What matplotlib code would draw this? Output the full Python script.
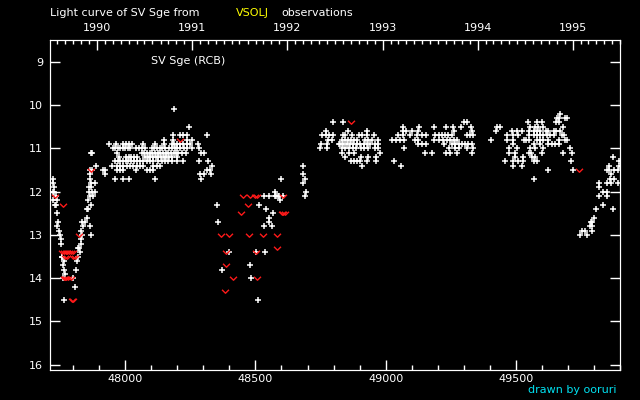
import datetime as dt
import matplotlib.pyplot as plt
from matplotlib.path import Path
from matplotlib.ticker import MultipleLocator, FixedLocator

# visual estimates, rows of (magnitude, [JD - 2400000, ...])
obs_1989 = [
    (11.1, [47869, 47873]), (11.4, [47888]), (11.5, [47864, 47872]),
    (11.6, [47864]), (11.7, [47721, 47864]), (11.8, [47724, 47868, 47885]),
    (11.9, [47726, 47862, 47868]), (12.0, [47721, 47726, 47859, 47871, 47884]),
    (12.1, [47734, 47864, 47875]), (12.2, [47721, 47737, 47858]),
    (12.3, [47730, 47733, 47869]), (12.4, [47852, 47856]), (12.5, [47739]),
    (12.6, [47852]), (12.7, [47743, 47835, 47845]), (12.8, [47739, 47839, 47866]),
    (12.9, [47747, 47830]), (13.0, [47749, 47835, 47869]), (13.1, [47752, 47830]),
    (13.2, [47753, 47830]), (13.3, [47818, 47821]), (13.4, [47826]),
    (13.5, [47756, 47759, 47817]), (13.6, [47765, 47815]), (13.7, [47762]),
    (13.8, [47765, 47811]), (13.9, [47767]), (14.0, [47762, 47798]),
    (14.2, [47808]), (14.5, [47765]),
]
obs_1990 = [
    (10.1, [48188]), (10.5, [48246]),
    (10.7, [48182, 48211, 48221, 48239, 48315]),
    (10.8, [48150, 48185, 48236, 48255]),
    (10.9, [47939, 47964, 47992, 48003, 48013, 48025, 48067, 48113, 48149, 48178,
            48188, 48199, 48210, 48223, 48237, 48249, 48281]),
    (11.0, [47952, 47962, 47973, 47980, 47990, 48000, 48010, 48018, 48041, 48051,
            48063, 48076, 48101, 48112, 48122, 48132, 48142, 48153, 48169, 48179,
            48190, 48200, 48210, 48226, 48238, 48255, 48284]),
    (11.1, [47967, 48063, 48073, 48083, 48094, 48104, 48114, 48124, 48135, 48145,
            48155, 48165, 48176, 48186, 48196, 48204, 48217, 48233, 48290, 48302]),
    (11.2, [47977, 48003, 48013, 48023, 48034, 48044, 48076, 48086, 48096, 48106,
            48117, 48127, 48137, 48147, 48158, 48168, 48178, 48197]),
    (11.3, [47960, 47971, 47981, 47991, 48001, 48012, 48022, 48032, 48044, 48057,
            48069, 48082, 48095, 48108, 48127, 48140, 48153, 48165, 48178, 48200,
            48223, 48283, 48317]),
    (11.4, [47948, 47967, 47980, 47992, 48005, 48018, 48031, 48044, 48057, 48069,
            48108, 48121, 48133, 48334]),
    (11.5, [47913, 47923, 47969, 47981, 47992, 48041, 48082, 48095, 48108, 48313,
            48326]),
    (11.6, [47922, 48287, 48304, 48329]),
    (11.7, [47960, 47992, 48016, 48114, 48291]),
]
obs_1991 = [
    (11.7, [48599]), (12.0, [48575]),
    (12.1, [48534, 48552, 48575, 48580, 48586, 48590, 48606]),
    (12.2, [48594]), (12.3, [48354, 48515]), (12.4, [48541]), (12.5, [48569]),
    (12.6, [48551]), (12.7, [48357, 48552]), (12.8, [48534, 48562]),
    (13.4, [48400, 48503, 48538]), (13.7, [48480]), (13.8, [48373]),
    (14.0, [48484]), (14.5, [48511]),
]
obs_1992 = [
    (10.4, [48799, 48838]), (10.6, [48771, 48857, 48930]),
    (10.7, [48757, 48771, 48784, 48799, 48836, 48845, 48870, 48896, 48908, 48928,
            48957]),
    (10.8, [48780, 48793, 48831, 48845, 48857, 48866, 48879, 48889, 48921, 48934,
            48947, 48972]),
    (10.9, [48751, 48776, 48819, 48825, 48835, 48851, 48863, 48876, 48889, 48902,
            48915, 48927, 48940, 48960, 48972]),
    (11.0, [48748, 48776, 48831, 48844, 48861, 48876, 48885, 48904, 48918, 48934,
            48960, 48969]),
    (11.1, [48834, 48861, 48877, 48979]), (11.2, [48844, 48904, 48931, 48963]),
    (11.3, [48867, 48877, 48890, 48902, 48927, 48963]), (11.4, [48684, 48911]),
    (11.6, [48684]), (11.7, [48692]), (11.8, [48681]), (12.0, [48696]),
    (12.1, [48692]),
]
obs_1993 = [
    (10.4, [49299, 49312]),
    (10.5, [49068, 49130, 49187, 49231, 49260, 49289, 49328]),
    (10.6, [49068, 49078, 49100, 49126, 49264, 49331]),
    (10.7, [49049, 49066, 49094, 49120, 49139, 49155, 49190, 49203, 49216, 49228,
            49241, 49254, 49312, 49325, 49337]),
    (10.8, [49024, 49039, 49056, 49072, 49113, 49126, 49187, 49205, 49222, 49235,
            49248, 49261, 49273]),
    (10.9, [49126, 49139, 49155, 49225, 49254, 49267, 49280, 49293, 49305, 49318,
            49331]),
    (11.0, [49072, 49245, 49267, 49280, 49314, 49335]),
    (11.1, [49152, 49177, 49232, 49248, 49273, 49332]),
    (11.3, [49034]), (11.4, [49058]),
]
obs_1994 = [
    (10.2, [49671]), (10.3, [49658, 49664, 49690, 49697]),
    (10.4, [49546, 49581, 49600, 49655, 49664]),
    (10.5, [49427, 49440, 49555, 49574, 49587, 49604, 49683]),
    (10.6, [49424, 49485, 49506, 49523, 49549, 49568, 49581, 49593, 49615, 49625,
            49645, 49655, 49670]),
    (10.7, [49465, 49491, 49510, 49549, 49568, 49581, 49593, 49606, 49619, 49632,
            49645, 49677, 49686]),
    (10.8, [49404, 49465, 49491, 49532, 49540, 49552, 49581, 49593, 49606, 49625,
            49664, 49687, 49696]),
    (10.9, [49491, 49568, 49591, 49625, 49638, 49651, 49664]),
    (11.0, [49475, 49504, 49555, 49574, 49604, 49709]),
    (11.1, [49472, 49497, 49549, 49558, 49602, 49681, 49715]),
    (11.2, [49495, 49527, 49561, 49574]),
    (11.3, [49459, 49491, 49510, 49529, 49568, 49583, 49711]),
    (11.4, [49491, 49523]), (11.5, [49625, 49721]), (11.7, [49568]),
]
obs_1995 = [
    (11.2, [49875]), (11.3, [49898]), (11.4, [49856, 49896]),
    (11.5, [49850, 49859, 49878, 49894]), (11.6, [49865]), (11.7, [49860, 49877]),
    (11.8, [49818, 49850, 49865, 49892]), (11.9, [49821]), (12.0, [49834, 49850]),
    (12.1, [49821, 49850]), (12.3, [49833]), (12.4, [49808, 49873]),
    (12.6, [49802]), (12.7, [49788, 49794]), (12.8, [49786, 49794]),
    (12.9, [49753, 49764, 49794]), (13.0, [49748, 49775]),
]
# fainter-than estimates
fainter = [
    (10.4, [48867]), (10.8, [48212]), (11.5, [47868, 49744]),
    (12.1, [47730, 48451, 48479, 48498, 48507, 48605]),
    (12.3, [47762, 48473]), (12.5, [48446, 48602, 48607, 48613]),
    (13.0, [47823, 48369, 48397, 48476, 48530, 48584]), (13.3, [48584]),
    (13.4, [47757, 47764, 47771, 47778, 47785, 47792, 47799, 48388, 48503]),
    (13.5, [47768, 47775, 47800, 47807]), (13.7, [48388]),
    (14.0, [47763, 47768, 47773, 47780, 47790, 48415, 48507]),
    (14.3, [48384]), (14.5, [47794, 47800]),
]
years = [1990, 1991, 1992, 1993, 1994, 1995]


def unpack(rows):
    jd, mag = [], []
    for m, days in rows:
        jd += days
        mag += [m] * len(days)
    return jd, mag


def rjd(y, m=1):
    return (dt.date(y, m, 1) - dt.date(1990, 1, 1)).days + 47892.5


plt.rcParams['font.family'] = 'DejaVu Sans'
fig = plt.figure(figsize=(6.4, 4), dpi=100, facecolor='black')
ax = fig.add_axes([50/640, 30/400, 570/640, 330/400])
ax.set_facecolor('black')

for season in [obs_1989, obs_1990, obs_1991, obs_1992, obs_1993, obs_1994, obs_1995]:
    x, y = unpack(season)
    ax.plot(x, y, '+', color='white', ms=4, mew=1.1, ls='none')

vmark = Path([(-1, 0.5), (0, -0.5), (1, 0.5)], [Path.MOVETO, Path.LINETO, Path.LINETO])
x, y = unpack(fainter)
ax.plot(x, y, marker=vmark, color='#ff1a1a', ms=5, mew=1.0, ls='none',
        fillstyle='none')

ax.set_xlim(47711, 49900)
ax.set_ylim(16.12, 8.5)
ax.xaxis.set_major_locator(MultipleLocator(500))
ax.xaxis.set_minor_locator(MultipleLocator(100))
ax.set_yticks(range(9, 17))
for s in ax.spines.values():
    s.set_color('white')
ax.tick_params(axis='x', which='major', direction='in', length=7, width=1,
               colors='white', labelsize=8, pad=3)
ax.tick_params(axis='x', which='minor', direction='in', length=3.6, width=1,
               colors='white')
ax.tick_params(axis='y', direction='in', length=7, width=1, colors='white',
               right=True, labelsize=8, pad=5)

top = ax.twiny()
top.set_xlim(ax.get_xlim())
top.set_xticks([rjd(y) for y in years])
top.set_xticklabels([str(y) for y in years])
months = [rjd(y, m) for y in range(1989, 1996) for m in range(1, 13)]
top.xaxis.set_minor_locator(FixedLocator([m for m in months if 47711 <= m <= 49900]))
for s in top.spines.values():
    s.set_color('white')
top.tick_params(axis='x', which='major', direction='in', length=7, width=1,
                colors='white', labelsize=8, pad=5)
top.tick_params(axis='x', which='minor', direction='in', length=2.9, width=1,
                colors='white')

fig.text(50/640, 1 - 12.5/400, 'Light curve of SV Sge from', color='white',
         fontsize=8, va='center')
fig.text(236/640, 1 - 12.5/400, 'VSOLJ', color='#ffff00', fontsize=8, va='center')
fig.text(281/640, 1 - 12.5/400, 'observations', color='white', fontsize=8,
         va='center')
fig.text(151/640, 1 - 61/400, 'SV Sge (RCB)', color='white', fontsize=8,
         va='center')
fig.text(617/640, 1 - 390/400, 'drawn by ooruri', color='#00e0f0', fontsize=8,
         ha='right', va='center')

fig.savefig('out.png', dpi=100, facecolor='black')
